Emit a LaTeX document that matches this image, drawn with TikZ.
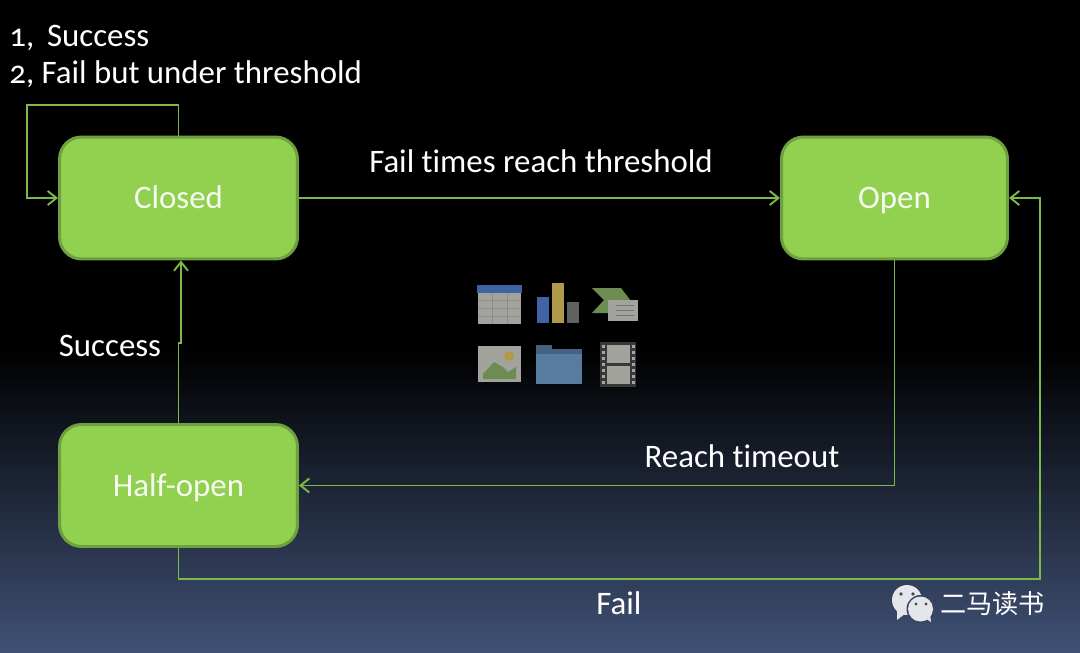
\documentclass[tikz,border=0pt]{standalone}
\usepackage{fontspec}
\setmainfont{Carlito}[Numbers=OldStyle,Ligatures=NoCommon]
\newfontfamily\cjkfont{Noto Sans CJK SC}[Scale=1]
\usepackage{xcolor}
\usetikzlibrary{arrows.meta,positioning}
\definecolor{stategreen}{HTML}{92D050}
\definecolor{edgegreen}{HTML}{6FA03F}
\definecolor{linegreen}{HTML}{7DB84A}
\definecolor{bottomblue}{HTML}{405175}
\definecolor{iconblue}{HTML}{3F63A3}
\definecolor{icongold}{HTML}{B0994A}
\definecolor{icongrey}{HTML}{A3A39E}
\definecolor{icongreen}{HTML}{6D8C52}
\definecolor{iconfolder}{HTML}{587BA0}
\definecolor{chatwhite}{HTML}{E4E6EA}

\begin{document}
\begin{tikzpicture}[
  x=0.02cm, y=-0.02cm,
  statebox/.style={draw=edgegreen, line width=1.7pt, rounded corners=0.44cm, fill=stategreen,
              text=white!92!stategreen, font=\fontsize{18.7}{22}\selectfont, align=center,
              text height=0.6cm, text depth=0.18cm,
              minimum width=4.76cm, minimum height=2.44cm, inner sep=0pt},
  arr/.style={draw=linegreen, line width=1.1pt, -{Straight Barb[length=5pt,width=8pt]}},
  lbl/.style={text=white, font=\fontsize{18.7}{22}\selectfont, inner sep=0pt,
              text height=0.6cm, text depth=0.18cm},
]
  %% background
  \fill[black] (0,0) rectangle (1080,350);
  \shade[top color=black, bottom color=bottomblue] (0,350) rectangle (1080,653);
  \useasboundingbox (0,0) rectangle (1080,653);
  %% states
  \node[statebox] (closed) at (178.5,198) {Closed};
  \node[statebox, minimum width=4.52cm] (open) at (894.5,198) {Open};
  \node[statebox] (halfopen) at (178.5,485.5) {Half-open};
  %% corners of the connectors
  \coordinate (loopcorner) at (27,105);
  \coordinate (jog) at (181,343);
  \coordinate (failcorner) at (1040,579);
  %% connectors
  \draw[arr] (closed.north) |- (loopcorner) |- (closed.west);
  \draw[arr] (closed.east) -- (open.west);
  \draw[arr] (open.south) |- (halfopen.east);
  \draw[arr] (halfopen.north) |- (jog) -- (jog |- closed.south);
  \draw[arr] (halfopen.south) |- (failcorner) |- (open.east);
  %% labels
  \node[lbl, anchor=west] (first) at (9,35.5) {1,\, Success};
  \node[lbl, anchor=west] (second) at (9,72.5) {2, Fail but under threshold};
  \node[lbl] (reach) at (541,161.5) {Fail times reach threshold};
  \node[lbl] (good) at (110,345.5) {Success};
  \node[lbl] (timeout) at (742,456.5) {Reach timeout};
  \node[lbl] (bad) at (619,603.5) {Fail};
  %% icons in the middle
  \fill[icongrey] (478,290) rectangle (521,324);
  \fill[iconblue] (477,285) rectangle (522,293);
  \foreach \gx in {492,507} \draw[black!45, line width=0.5pt] (\gx,293) -- (\gx,324);
  \foreach \gy in {300,308,316} \draw[black!45, line width=0.5pt] (478,\gy) -- (521,\gy);
  \fill[iconblue] (537,297) rectangle (549,323);
  \fill[icongold] (552,283) rectangle (564,323);
  \fill[black!62] (567,302) rectangle (579,323);
  \fill[icongreen] (592,288) -- (621,288) -- (631,301) -- (608,313) -- (592,313) -- (604,300) -- cycle;
  \fill[icongrey] (608,300) rectangle (638,321);
  \foreach \gy in {305,310,315} \draw[black!55, line width=0.5pt] (616,\gy) -- (634,\gy);
  \fill[icongrey] (478,346) rectangle (521,382);
  \fill[icongreen] (483,379) -- (483,374) -- (494,362) -- (503,367) -- (508,372) -- (516,367) -- (516,379) -- cycle;
  \fill[icongold] (509,356) circle (5);
  \fill[iconfolder!80!black] (536,345) rectangle (552,352);
  \fill[iconfolder!80!black] (536,349) rectangle (582,354);
  \fill[iconfolder] (536,354) rectangle (582,384);
  \fill[black!78] (600,342) rectangle (636,387);
  \fill[icongrey] (607,345) rectangle (630,363);
  \fill[icongrey] (607,366) rectangle (630,384);
  \foreach \gy in {345,351,...,381} {
    \fill[black!35] (602,\gy) rectangle (605,\gy+3);
    \fill[black!35] (632,\gy) rectangle (635,\gy+3);
  }
  %% chat mark and its name
  \fill[chatwhite] (907,600) circle (15);
  \fill[chatwhite] (897,609) -- (897,620) -- (906,613) -- cycle;
  \fill[bottomblue!85!black] (920.5,609) circle (14);
  \fill[chatwhite] (920.5,609) circle (12.5);
  \fill[chatwhite] (925,618) -- (931,622) -- (930,614) -- cycle;
  \foreach \ex/\ey in {901/594,913/594} \fill[black!70] (\ex,\ey) circle (1.8);
  \foreach \ex/\ey in {916/604,926/604} \fill[black!70] (\ex,\ey) circle (1.6);
  \node[lbl, anchor=west, font=\cjkfont\fontsize{14.9}{18}\selectfont] (mark) at (940,603) {二马读书};
\end{tikzpicture}
\end{document}
